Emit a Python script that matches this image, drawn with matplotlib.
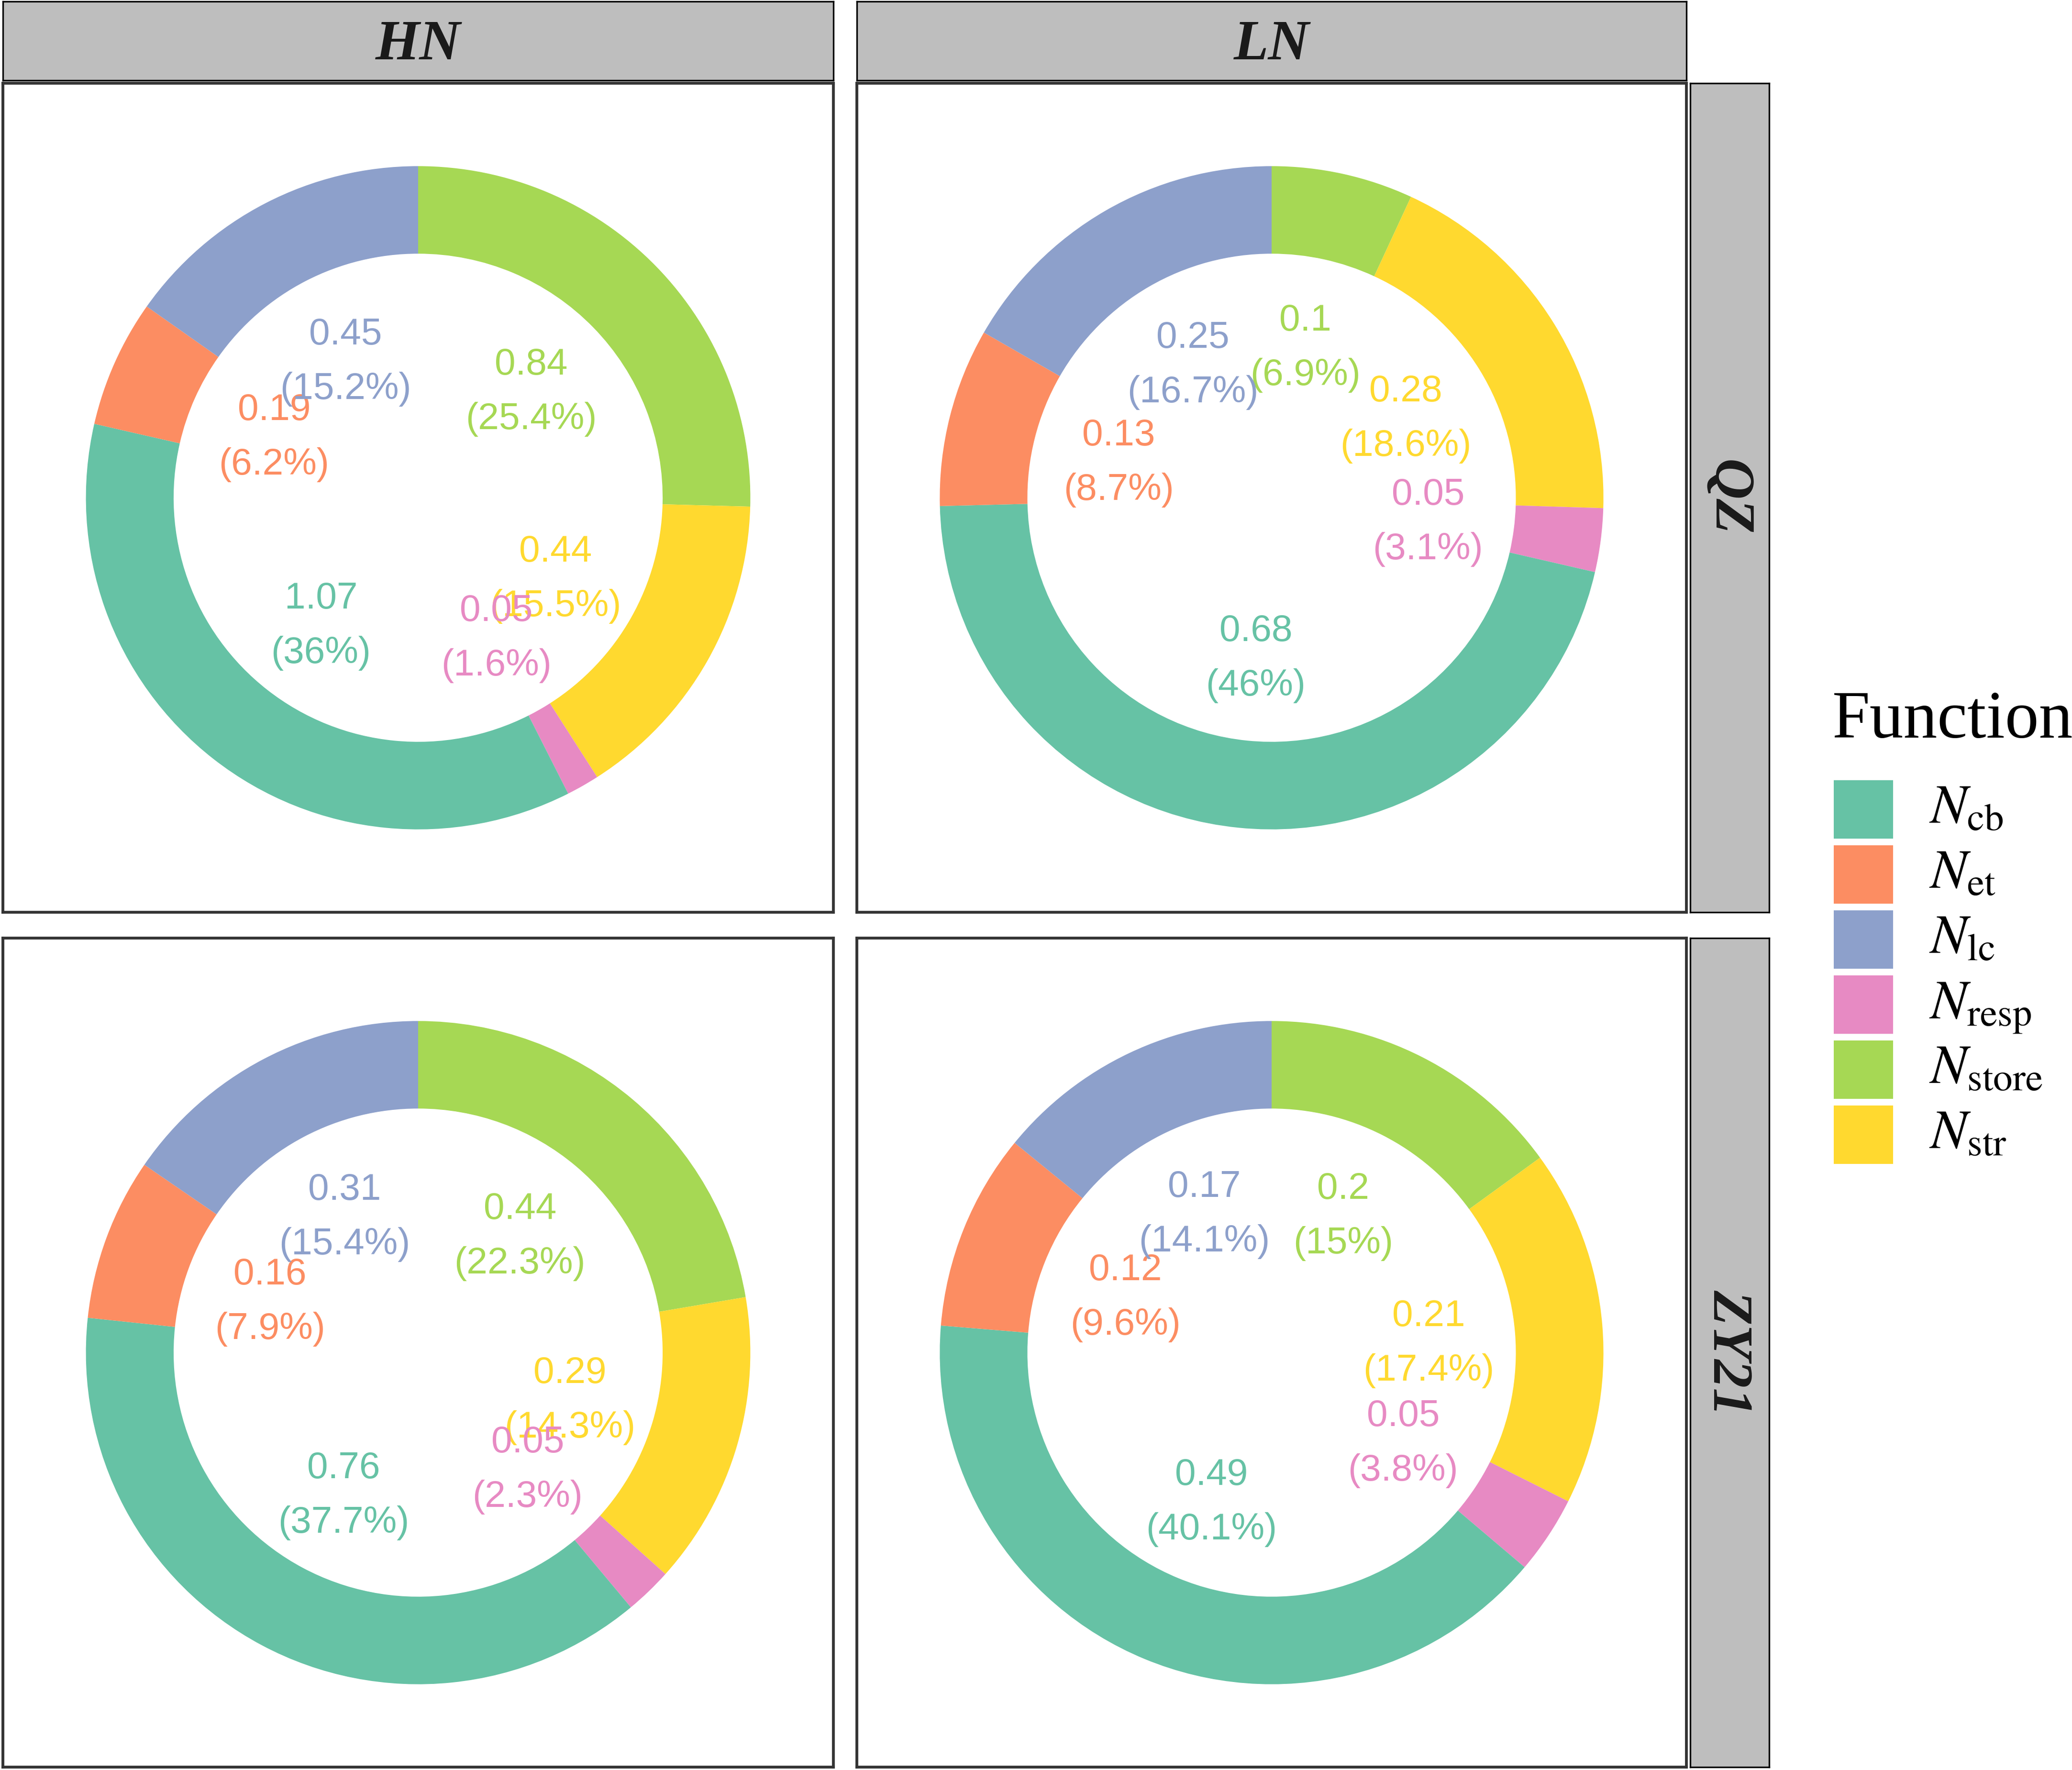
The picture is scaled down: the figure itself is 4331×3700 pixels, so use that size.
import numpy as np
import matplotlib
matplotlib.use("Agg")
import matplotlib.pyplot as plt
from matplotlib.patches import Rectangle

plt.rcParams['mathtext.fontset'] = 'stix'

# categories (legend order) and Set2 colours
functions = ["cb", "et", "lc", "resp", "store", "str"]
colors = ["#66C2A5", "#FC8D62", "#8DA0CB", "#E78AC3", "#A6D854", "#FFD92F"]
# order of the segments, clockwise from 12 o'clock
ring_order = ["store", "str", "resp", "cb", "et", "lc"]

nitrogen = ["HN", "LN"]
sites = ["QZ", "ZY21"]

# values and percentages, in the order of `functions`
qz_hn_value = [1.07, 0.19, 0.45, 0.05, 0.84, 0.44]
qz_hn_pct = [36, 6.2, 15.2, 1.6, 25.4, 15.5]
qz_ln_value = [0.68, 0.13, 0.25, 0.05, 0.1, 0.28]
qz_ln_pct = [46, 8.7, 16.7, 3.1, 6.9, 18.6]
zy_hn_value = [0.76, 0.16, 0.31, 0.05, 0.44, 0.29]
zy_hn_pct = [37.7, 7.9, 15.4, 2.3, 22.3, 14.3]
zy_ln_value = [0.49, 0.12, 0.17, 0.05, 0.2, 0.21]
zy_ln_pct = [40.1, 9.6, 14.1, 3.8, 15, 17.4]

panels = {
    ("QZ", "HN"): (qz_hn_value, qz_hn_pct),
    ("QZ", "LN"): (qz_ln_value, qz_ln_pct),
    ("ZY21", "HN"): (zy_hn_value, zy_hn_pct),
    ("ZY21", "LN"): (zy_ln_value, zy_ln_pct),
}

W, H = 4331, 3700
DPI = 300
fig = plt.figure(figsize=(W / DPI, H / DPI), dpi=DPI)


def px_axes(x0, y0, x1, y1):
    return fig.add_axes([x0 / W, 1 - y1 / H, (x1 - x0) / W, (y1 - y0) / H])


col_x = [(6, 1742), (1791, 3525)]
row_y = [(174, 1907), (1961, 3694)]
strip_top_y = (3, 168)
strip_right_x = (3533, 3698)

OUTER = 1.0
INNER = 0.736
LABEL_R = 0.475
LIM = 1.25

strip_font = dict(family="Liberation Serif", weight="bold", style="italic",
                  size=28.5, color="#1A1A1A")


def strip(ax):
    ax.set_facecolor("#BEBEBE")
    ax.set_xticks([])
    ax.set_yticks([])
    for s in ax.spines.values():
        s.set_color("black")
        s.set_linewidth(0.8)


for i, site in enumerate(sites):
    for j, nit in enumerate(nitrogen):
        values, pcts = panels[(site, nit)]
        ax = px_axes(col_x[j][0], row_y[i][0], col_x[j][1], row_y[i][1])
        idx = [functions.index(f) for f in ring_order]
        sizes = [pcts[k] for k in idx]
        cols = [colors[k] for k in idx]
        wedges, _ = ax.pie(sizes, colors=cols, startangle=90, counterclock=False,
                           radius=OUTER,
                           wedgeprops=dict(width=OUTER - INNER, linewidth=0))
        for w, k in zip(wedges, idx):
            mid = np.deg2rad((w.theta1 + w.theta2) / 2)
            label = f"{values[k]:g}\n({pcts[k]:g}%)"
            ax.annotate(label, xy=(LABEL_R * np.cos(mid), LABEL_R * np.sin(mid)),
                        xytext=(0, -2), textcoords="offset points",
                        ha="center", va="center", multialignment="center",
                        color=colors[k], fontsize=18.8, family="Liberation Sans",
                        linespacing=1.72)
        ax.set_aspect("auto")
        ax.set_xlim(-LIM, LIM)
        ax.set_ylim(-LIM, LIM)
        ax.set_xticks([])
        ax.set_yticks([])
        ax.set_frame_on(True)
        for s in ax.spines.values():
            s.set_visible(True)
            s.set_color("#333333")
            s.set_linewidth(1.4)

# top strips
for j, nit in enumerate(nitrogen):
    sax = px_axes(col_x[j][0], strip_top_y[0], col_x[j][1], strip_top_y[1])
    strip(sax)
    sax.text(0.5, 0.44, nit, ha="center", va="center", transform=sax.transAxes,
             **strip_font)

# right strips
for i, site in enumerate(sites):
    sax = px_axes(strip_right_x[0], row_y[i][0], strip_right_x[1], row_y[i][1])
    strip(sax)
    sax.text(0.47, 0.5, site, ha="center", va="center", rotation=270,
             transform=sax.transAxes, **strip_font)

# legend drawn in pixel coordinates
lax = fig.add_axes([0, 0, 1, 1])
lax.set_xlim(0, W)
lax.set_ylim(H, 0)
lax.axis("off")
lax.text(3830, 1542, "Function", ha="left", va="baseline",
         family="Liberation Serif", fontsize=34, color="black")
key_x, key_y0, key_w, key_h, key_step = 3833, 1631, 124, 122, 136
for n, (f, c) in enumerate(zip(functions, colors)):
    y = key_y0 + n * key_step
    lax.add_patch(Rectangle((key_x, y), key_w, key_h, facecolor=c,
                            edgecolor="none"))
    lax.text(4032, y + 90, rf"$N_{{\mathrm{{{f}}}}}$", ha="left",
             va="baseline", fontsize=27.8, color="black")

fig.savefig("out.png", dpi=DPI)
